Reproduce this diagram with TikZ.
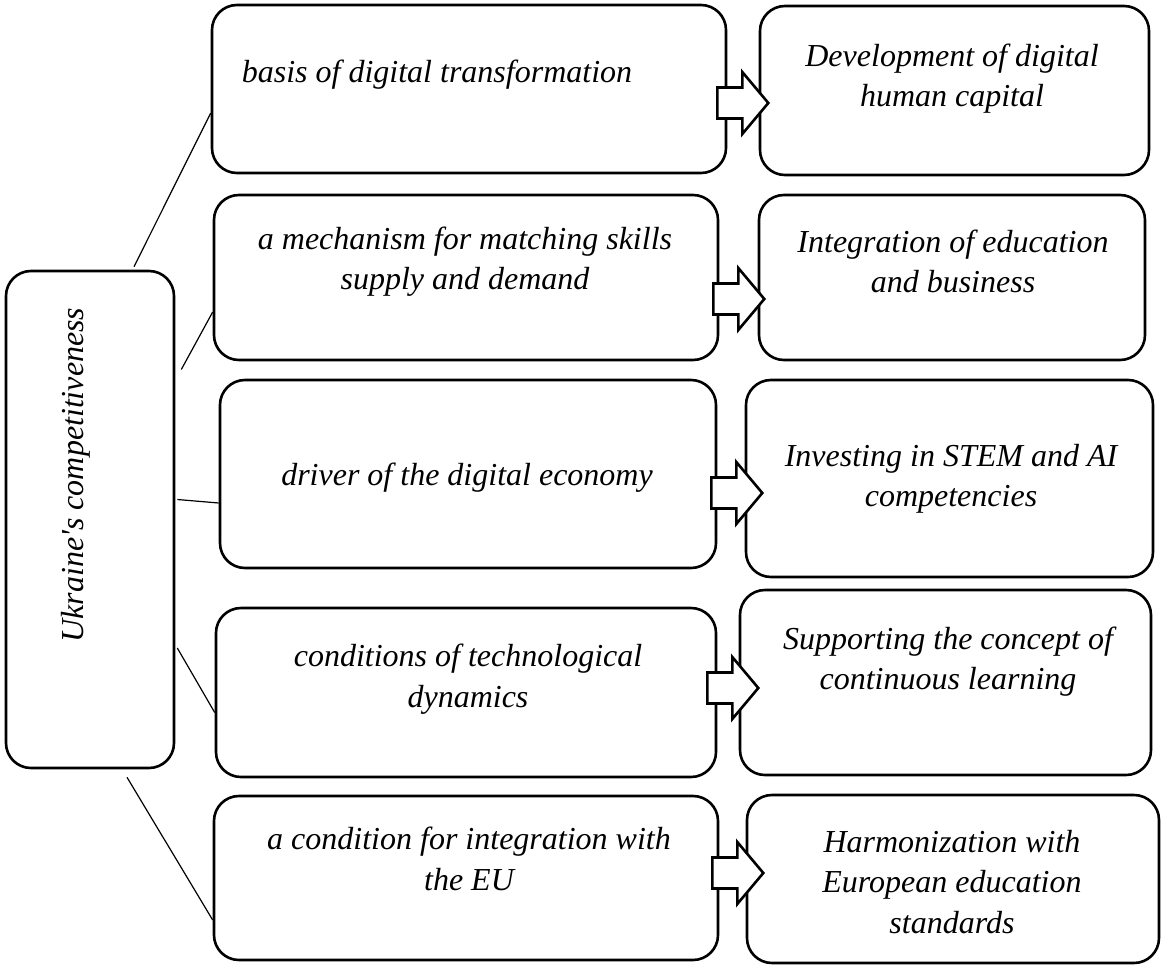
\documentclass[tikz,border=0pt]{standalone}
\usepackage{fontspec}
\setmainfont{Liberation Serif}
\usetikzlibrary{fit,calc}
\begin{document}
\begin{tikzpicture}[x=1pt,y=-1pt,
  box/.style={draw, line width=2.6pt, rounded corners=25pt, inner sep=0pt},
  txt/.style={font=\fontsize{32}{40.5}\selectfont\itshape, align=center, inner sep=0pt},
  link/.style={line width=1.2pt},
  arrowshape/.style={draw, fill=white, line width=2.6pt, line join=miter},
  blockarrow/.pic={\path[arrowshape] (0,-15.5) -- (25,-15.5) -- (25,-31) -- (51,0) -- (25,31) -- (25,15.5) -- (0,15.5) -- cycle;}
]
\useasboundingbox (0,0) rectangle (1161,966);

% left column
\node[box, fit={(6,271) (174,768)}] (L) {};
\node[txt, rotate=90] (Lt) at (76,475) {Ukraine\textquotesingle s competitiveness};

% middle column
\node[box, fit={(212,5) (726,173)}]   (M1) {};
\node[box, fit={(214,195) (718,360)}] (M2) {};
\node[box, fit={(220,380) (716,568)}] (M3) {};
\node[box, fit={(216,608) (716,777)}] (M4) {};
\node[box, fit={(214,796) (718,960)}] (M5) {};

% right column
\node[box, fit={(760,6) (1149,175)}]   (R1) {};
\node[box, fit={(759,195) (1145,360)}] (R2) {};
\node[box, fit={(746,380) (1153,577)}] (R3) {};
\node[box, fit={(740,590) (1151,775)}] (R4) {};
\node[box, fit={(747,795) (1159,963)}] (R5) {};

% texts
\node[txt] (M1t) at (437,75)    {basis of digital transformation};
\node[txt] (M2t) at (465,261.5) {a mechanism for matching skills\\supply and demand};
\node[txt] (M3t) at (467,478)   {driver of the digital economy};
\node[txt] (M4t) at (468,679)   {conditions of technological\\dynamics};
\node[txt] (M5t) at (469,859)   {a condition for integration with\\the EU};

\node[txt] (R1t) at (952,78.5)  {Development of digital\\human capital};
\node[txt] (R2t) at (953,261.5) {Integration of education\\and business};
\node[txt] (R3t) at (951,479)   {Investing in STEM and AI\\competencies};
\node[txt] (R4t) at (948,661.5) {Supporting the concept of\\continuous learning};
\node[txt] (R5t) at (952,882)   {Harmonization with\\European education\\standards};

% links from the left box
\draw[link] ($(L.north)+(44,-3)$)  -- ($(M1.west)+(0,24)$);
\draw[link] ($(L.east)+(6,-150)$)  -- ($(M2.west)+(0,34.5)$);
\draw[link] ($(L.east)+(2,-20)$)   -- ($(M3.west)+(0,29)$);
\draw[link] ($(L.east)+(2,128.5)$) -- ($(M4.west)+(0,20)$);
\draw[link] ($(L.south)+(37,8)$)   -- ($(M5.west)+(0,42)$);

% block arrows between columns
\pic at ($(M1.east)+(-10,14)$)   {blockarrow};
\pic at ($(M2.east)+(-6,21.5)$)  {blockarrow};
\pic at ($(M3.east)+(-6,19)$)    {blockarrow};
\pic at ($(M4.east)+(-10,-4.5)$) {blockarrow};
\pic at ($(M5.east)+(-7,-5)$)    {blockarrow};
\end{tikzpicture}
\end{document}
